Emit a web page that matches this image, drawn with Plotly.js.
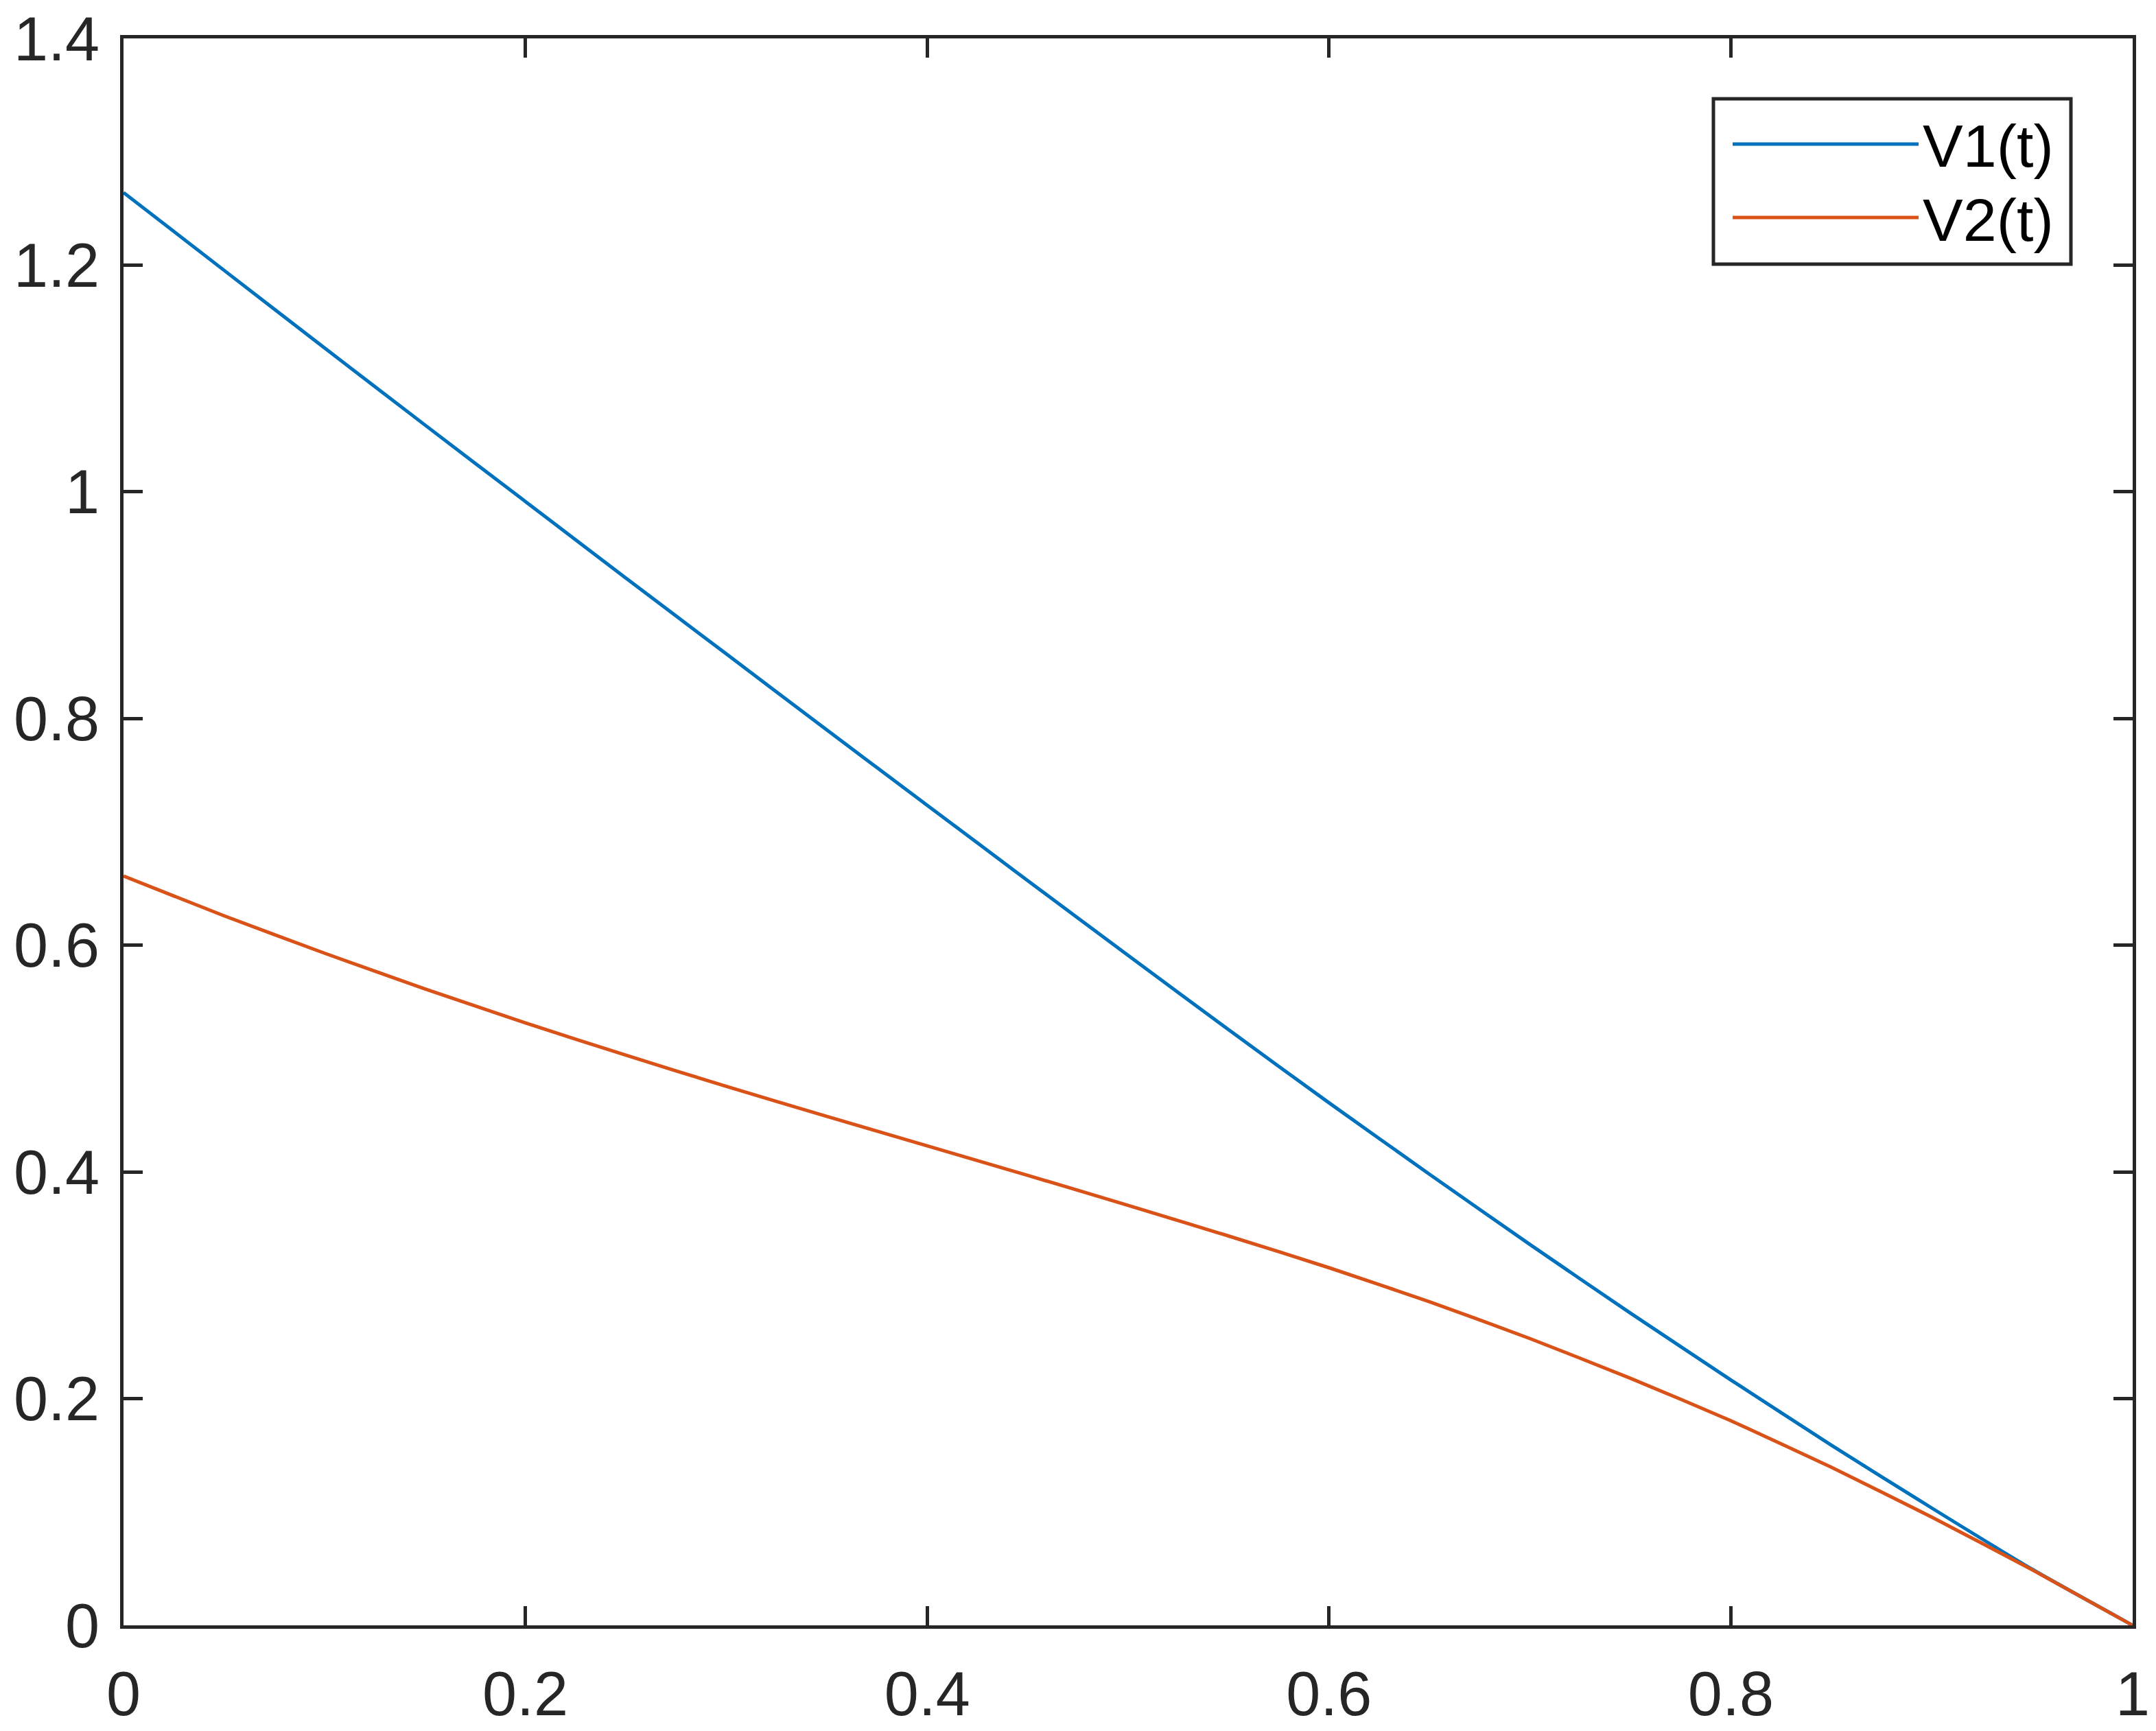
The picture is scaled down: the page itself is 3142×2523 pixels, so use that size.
<!DOCTYPE html>
<html>
<head>
<meta charset="utf-8">
<script src="https://cdn.plot.ly/plotly-3.0.1.min.js"></script>
<style>html,body{margin:0;padding:0;background:#fff;}#chart{width:3142px;height:2523px;}</style>
</head>
<body>
<div id="chart"></div>
<script>
// ---- data ----
const t = [0, 0.05, 0.1, 0.15, 0.2, 0.25, 0.3, 0.35, 0.4, 0.45, 0.5,
           0.55, 0.6, 0.65, 0.7, 0.75, 0.8, 0.85, 0.9, 0.95, 1.0];
const v1 = [1.264, 1.1955, 1.127, 1.059, 0.9915, 0.924, 0.857, 0.790, 0.7235, 0.657, 0.591,
            0.5255, 0.461, 0.398, 0.336, 0.2755, 0.2165, 0.159, 0.1035, 0.0495, 0.0];
const v2 = [0.661, 0.626, 0.593, 0.5615, 0.5315, 0.503, 0.4755, 0.449, 0.423, 0.397, 0.3705,
            0.3435, 0.3155, 0.2855, 0.253, 0.218, 0.1805, 0.1395, 0.0955, 0.049, 0.0];
const seriesNames = ["V1(t)", "V2(t)"];
const seriesColors = ["#0072BD", "#D95319"];

// ---- layout geometry (pixels) ----
const W = 3142, H = 2523;
const L = 180, R = 3108, T = 56, B = 2369;
const pw = R - L, ph = B - T;
const px2x = p => (p - L) / pw;
const px2y = p => (B - p) / ph;
const axisColor = "#262626";
const fontFam = "'Liberation Sans', Arial, Helvetica, sans-serif";

const traces = [v1, v2].map((v, i) => ({
  x: t, y: v, type: "scatter", mode: "lines", name: seriesNames[i],
  line: {color: seriesColors[i], width: 5, shape: "spline", smoothing: 0.5},
  showlegend: false, hoverinfo: "skip"
}));

// manual MATLAB-like legend
const legRows = [210, 317];
const shapes = [{
  type: "rect", xref: "paper", yref: "paper",
  x0: px2x(2497), x1: px2x(3018), y0: px2y(385), y1: px2y(144),
  line: {color: axisColor, width: 5}, fillcolor: "#ffffff", layer: "above"
}];
const annotations = [];
seriesNames.forEach((n, i) => {
  shapes.push({
    type: "line", xref: "paper", yref: "paper",
    x0: px2x(2525), x1: px2x(2796), y0: px2y(legRows[i]), y1: px2y(legRows[i]),
    line: {color: seriesColors[i], width: 5}, layer: "above"
  });
  annotations.push({
    xref: "paper", yref: "paper", x: px2x(2800), y: px2y(legRows[i] + 3),
    xanchor: "left", yanchor: "middle", showarrow: false, text: n,
    font: {family: fontFam, size: 88, color: "#000000"}
  });
});

const axisCommon = {
  showgrid: false, zeroline: false, showline: true, linecolor: axisColor, linewidth: 5,
  mirror: "ticks", ticks: "inside", ticklen: 28, tickwidth: 5, tickcolor: axisColor,
  tickfont: {family: fontFam, size: 90, color: axisColor}, dtick: 0.2, tick0: 0
};

const layout = {
  width: W, height: H,
  margin: {l: L, r: W - R, t: T, b: H - B, pad: 0},
  paper_bgcolor: "#ffffff", plot_bgcolor: "#ffffff",
  xaxis: Object.assign({}, axisCommon, {range: [0, 1], ticklabelstandoff: 18}),
  yaxis: Object.assign({}, axisCommon, {range: [0, 1.4], ticklabelstandoff: 12}),
  shapes: shapes, annotations: annotations, showlegend: false
};

Plotly.newPlot("chart", traces, layout, {staticPlot: true});
</script>
</body>
</html>
